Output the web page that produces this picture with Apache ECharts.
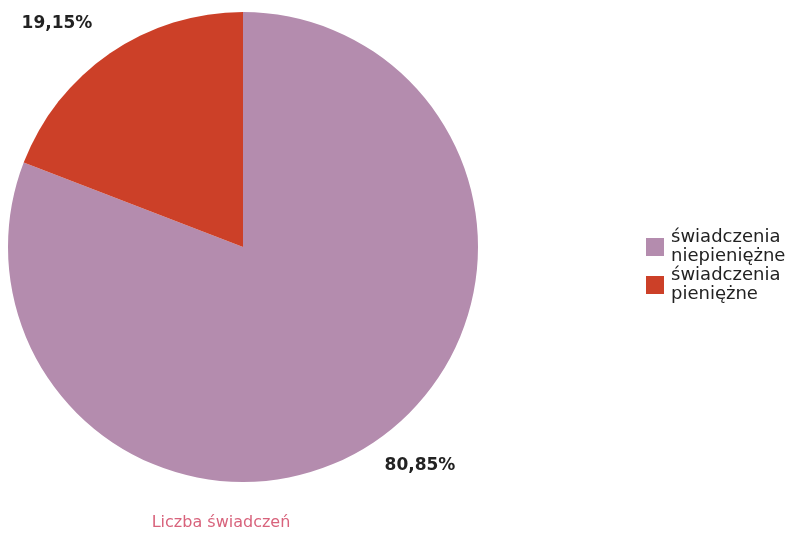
<!DOCTYPE html>
<html>
<head>
<meta charset="utf-8">
<script src="https://cdn.jsdelivr.net/npm/echarts@6/dist/echarts.min.js"></script>
<style>html,body{margin:0;padding:0;background:#fff}#c{width:794px;height:534px}</style>
</head>
<body>
<div id="c"></div>
<script>
const categories = ['świadczenia\nniepieniężne', 'świadczenia\npieniężne'];
const values = [80.85, 19.15];
const labelTexts = ['80,85%', '19,15%'];
const colors = ['#b48cae', '#cc4028'];
const title = 'Liczba świadczeń';

const chart = echarts.init(document.getElementById('c'));
chart.setOption({
  animation: false,
  title: {
    text: title,
    left: 216, top: 510, textAlign: 'center',
    textStyle: {fontFamily: 'DejaVu Sans', fontSize: 16, fontWeight: 'normal', color: '#d8637c'}
  },
  legend: {
    orient: 'vertical', left: 641, top: 223, itemGap: 0,
    itemWidth: 18, itemHeight: 18, itemStyle: {borderWidth: 0},
    icon: 'rect',
    textStyle: {fontFamily: 'DejaVu Sans', fontSize: 18, lineHeight: 19, color: '#222', padding: [0, 0, 0, 2]},
    data: categories
  },
  series: [{
    type: 'pie',
    center: [243, 247],
    radius: 235,
    startAngle: 90,
    clockwise: true,
    avoidLabelOverlap: false,
    data: categories.map((c, i) => ({name: c, value: values[i], itemStyle: {color: colors[i]}})),
    itemStyle: {borderWidth: 0},
    label: {
      show: true, position: 'outside',
      formatter: p => labelTexts[p.dataIndex],
      fontFamily: 'DejaVu Sans', fontSize: 17, fontWeight: 'bold', color: '#222',
      align: 'center', verticalAlign: 'middle'
    },
    labelLine: {show: false},
    labelLayout: p => p.dataIndex === 0 ? {x: 420, y: 466, align: 'center', verticalAlign: 'middle'} : {x: 57, y: 24, align: 'center', verticalAlign: 'middle'},
    emphasis: {disabled: true}
  }]
});
</script>
</body>
</html>
